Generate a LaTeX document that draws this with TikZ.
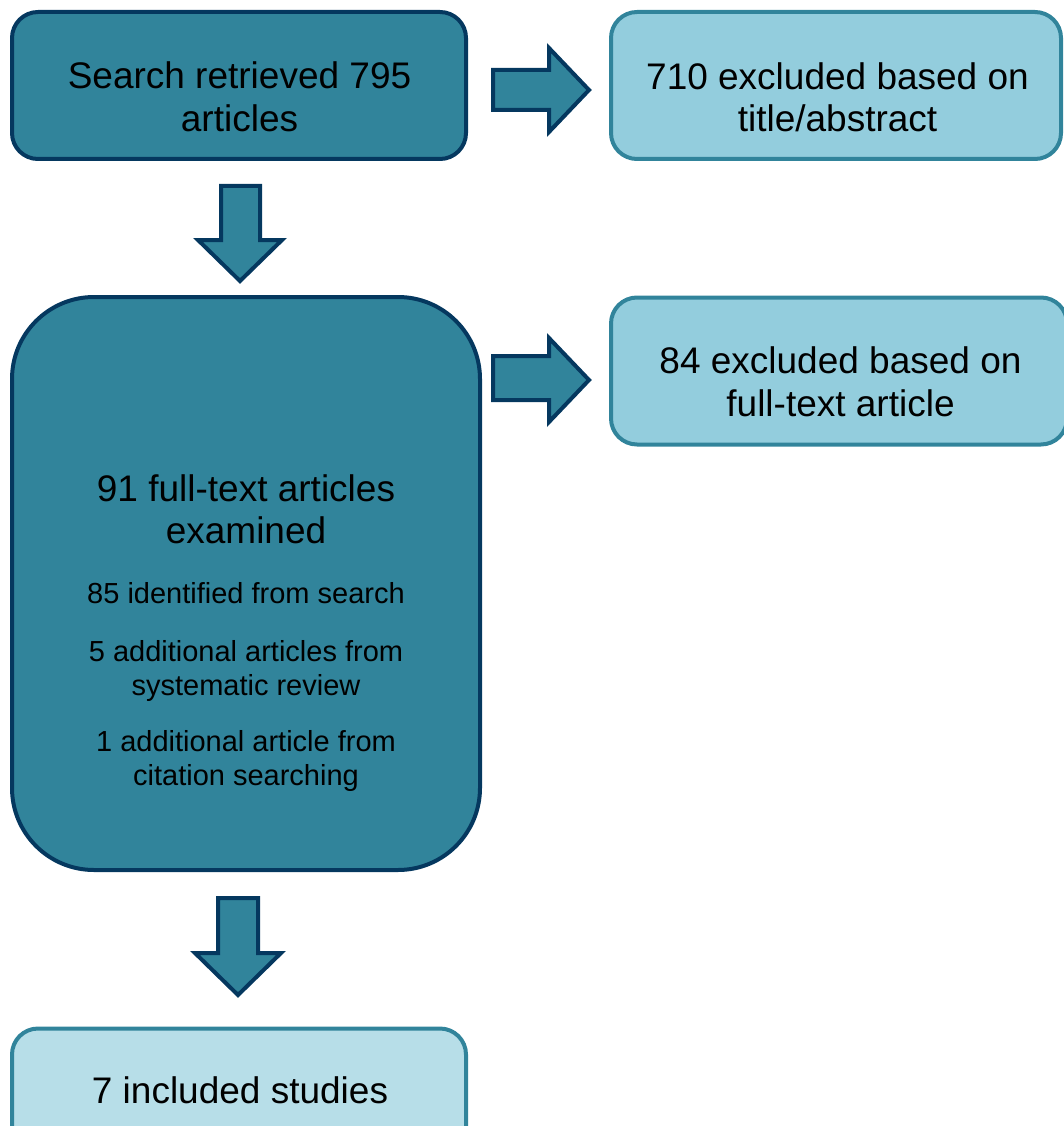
\documentclass[tikz,border=0pt]{standalone}
\usepackage{fontspec}
\setmainfont{Liberation Sans}
\definecolor{darkfill}{RGB}{49,132,155}
\definecolor{navy}{RGB}{5,56,95}
\definecolor{lightfill}{RGB}{147,205,221}
\definecolor{palefill}{RGB}{183,222,232}
\tikzset{
  darkbox/.style={draw=navy, fill=darkfill, line width=4pt, inner sep=0pt},
  lightbox/.style={draw=darkfill, fill=lightfill, line width=4pt, inner sep=0pt, rounded corners=26pt},
  palebox/.style={draw=darkfill, fill=palefill, line width=4pt, inner sep=0pt, rounded corners=26pt},
  blockarrow/.style={draw=navy, fill=darkfill, line width=4pt, line join=miter},
  bigtxt/.style={anchor=base, inner sep=0pt, font=\fontsize{37}{44}\selectfont},
  smalltxt/.style={anchor=base, inner sep=0pt, font=\fontsize{29}{35}\selectfont}
}
\begin{document}
\begin{tikzpicture}[x=1pt,y=-1pt]
\useasboundingbox (0,0) rectangle (1064,1126);
\clip (0,0) rectangle (1064,1126);
% boxes
\node[darkbox, rounded corners=26pt, minimum width=454pt, minimum height=147pt] (search) at (239,85.5) {};
\node[lightbox, minimum width=450pt, minimum height=147pt] (excl1) at (836,85.5) {};
\node[darkbox, rounded corners=82pt, minimum width=468pt, minimum height=573pt] (full) at (246,583.5) {};
\node[lightbox, minimum width=456pt, minimum height=147pt] (excl2) at (839,371) {};
\node[palebox, minimum width=454pt, minimum height=147pt] (incl) at (239,1102) {};
% texts
\node[bigtxt] (t1a) at (239.5,89) {Search retrieved 795};
\node[bigtxt] (t1b) at (239.5,132) {articles};
\node[bigtxt] (t2a) at (837.5,89.5) {710 excluded based on};
\node[bigtxt] (t2b) at (837.5,132) {title/abstract};
\node[bigtxt] (t3a) at (840.5,373) {84 excluded based on};
\node[bigtxt] (t3b) at (840.5,416) {full-text article};
\node[bigtxt] (t4a) at (246,501) {91 full-text articles};
\node[bigtxt] (t4b) at (246,543) {examined};
\node[smalltxt] (t4c) at (246,603) {85 identified from search};
\node[smalltxt] (t4d) at (246,661) {5 additional articles from};
\node[smalltxt] (t4e) at (246,695) {systematic review};
\node[smalltxt] (t4f) at (246,751) {1 additional article from};
\node[smalltxt] (t4g) at (246,785) {citation searching};
\node[bigtxt] (t5) at (240,1103) {7 included studies};
% block arrows
\draw[blockarrow] (493,70) -- (549,70) -- (549,48) -- (589,90) -- (549,132) -- (549,110) -- (493,110) -- cycle;
\draw[blockarrow] (493,356) -- (549,356) -- (549,338) -- (589,380) -- (549,422) -- (549,400) -- (493,400) -- cycle;
\draw[blockarrow] (221,186) -- (260,186) -- (260,240) -- (282,240) -- (240,281) -- (198,240) -- (221,240) -- cycle;
\draw[blockarrow] (218,898) -- (258,898) -- (258,953) -- (281,953) -- (238,995) -- (195,953) -- (218,953) -- cycle;
\end{tikzpicture}
\end{document}
